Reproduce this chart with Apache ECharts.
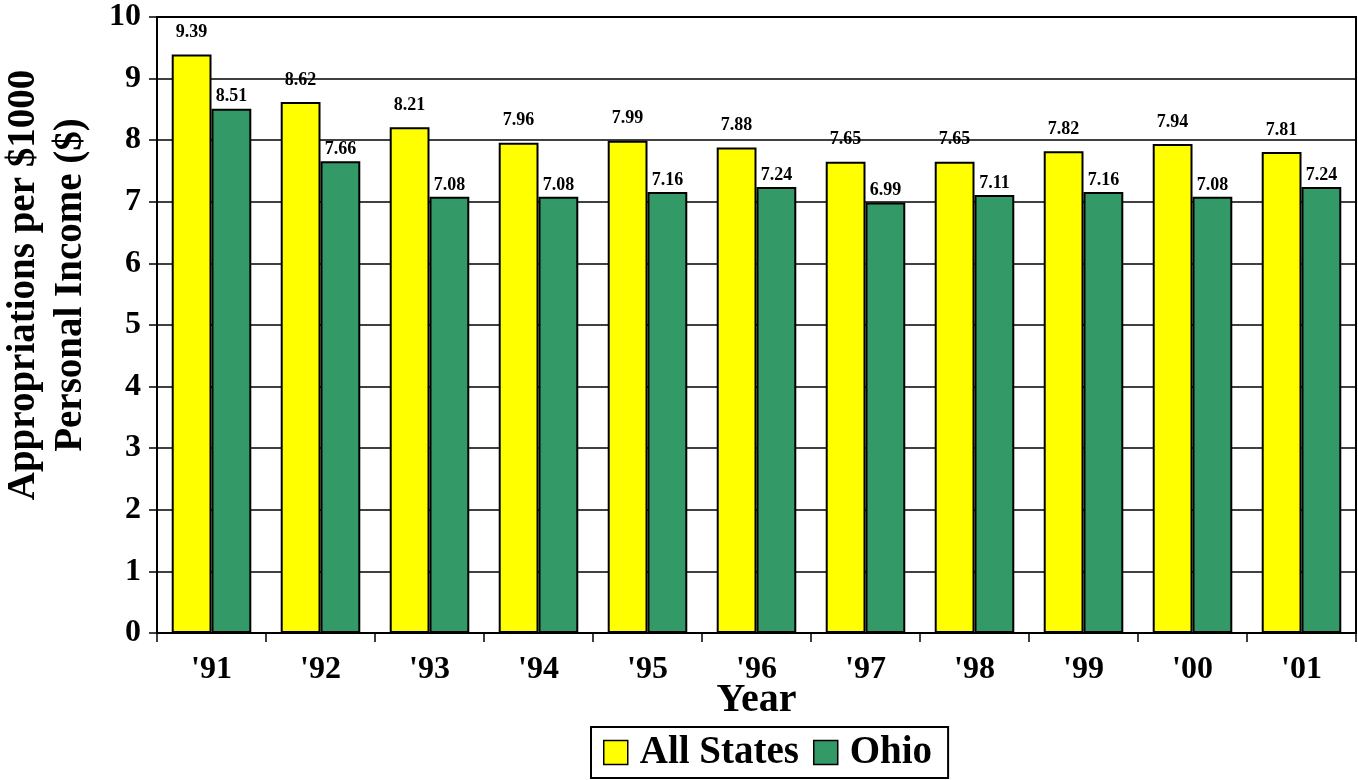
<!DOCTYPE html>
<html>
<head>
<meta charset="utf-8">
<script src="https://cdn.jsdelivr.net/npm/echarts@6/dist/echarts.min.js"></script>
<style>
  html, body { margin: 0; padding: 0; background: #fff; }
  #chart { width: 1358px; height: 780px; }
</style>
</head>
<body>
<div id="chart"></div>
<script>
var years = ["'91", "'92", "'93", "'94", "'95", "'96", "'97", "'98", "'99", "'00", "'01"];
var allStates = [9.39, 8.62, 8.21, 7.96, 7.99, 7.88, 7.65, 7.65, 7.82, 7.94, 7.81];
var ohio = [8.51, 7.66, 7.08, 7.08, 7.16, 7.24, 6.99, 7.11, 7.16, 7.08, 7.24];

var serif = '"Liberation Serif", "Times New Roman", serif';

function barSeries(name, data, color, dist) {
  return {
    name: name,
    type: 'bar',
    data: data,
    barGap: '0%',
    barCategoryGap: '27%',
    itemStyle: { color: color, borderColor: '#000', borderWidth: 2 },
    label: {
      show: true,
      position: 'top',
      distance: dist,
      fontFamily: serif,
      fontWeight: 'bold',
      fontSize: 18,
      color: '#000',
      formatter: function (p) { return p.value.toFixed(2); }
    }
  };
}

var option = {
  animation: false,
  backgroundColor: '#fff',
  textStyle: { fontFamily: serif },
  grid: {
    left: 157, right: 2, top: 17, bottom: 147,
    containLabel: false,
    outerBoundsMode: 'none',
    show: true, borderColor: '#000', borderWidth: 2
  },
  legend: {
    left: 591,
    top: 727,
    padding: [6, 16, 6, 12],
    borderColor: '#000',
    borderWidth: 2,
    itemWidth: 24,
    itemHeight: 24,
    itemGap: 14,
    icon: 'rect',
    textStyle: { fontFamily: serif, fontWeight: 'bold', fontSize: 39, color: '#000', padding: [0, 0, 0, 7] },
    data: [
      { name: 'All States', itemStyle: { color: '#ffff00', borderColor: '#000', borderWidth: 1.5 } },
      { name: 'Ohio', itemStyle: { color: '#339966', borderColor: '#000', borderWidth: 1.5 } }
    ]
  },
  xAxis: {
    type: 'category',
    data: years,
    name: 'Year',
    nameLocation: 'middle',
    nameGap: 48,
    nameMoveOverlap: false,
    nameTextStyle: { fontFamily: serif, fontWeight: 'bold', fontSize: 40, color: '#000' },
    axisLine: { lineStyle: { color: '#000', width: 2 } },
    axisTick: { show: true, length: 9, lineStyle: { color: '#000', width: 1.5 } },
    axisLabel: { fontFamily: serif, fontWeight: 'bold', fontSize: 32, color: '#000', margin: 21 }
  },
  yAxis: {
    type: 'value',
    min: 0,
    max: 10,
    interval: 1,
    name: 'Appropriations per $1000\nPersonal Income ($)',
    nameLocation: 'middle',
    nameGap: 63,
    nameMoveOverlap: false,
    nameTextStyle: {
      fontFamily: serif, fontWeight: 'bold', fontSize: 39, color: '#000',
      lineHeight: 47, padding: [0, 0, 0, 80]
    },
    axisLine: { show: true, lineStyle: { color: '#000', width: 2 } },
    axisTick: { show: true, length: 8, lineStyle: { color: '#000', width: 1.5 } },
    axisLabel: { fontFamily: serif, fontWeight: 'bold', fontSize: 32, color: '#000', margin: 16 },
    splitLine: { show: true, lineStyle: { color: '#000', width: 1.5 } }
  },
  series: [
    barSeries('All States', allStates, '#ffff00', 13),
    barSeries('Ohio', ohio, '#339966', 3)
  ]
};

var myChart = echarts.init(document.getElementById('chart'));
myChart.setOption(option, true);
</script>
</body>
</html>
